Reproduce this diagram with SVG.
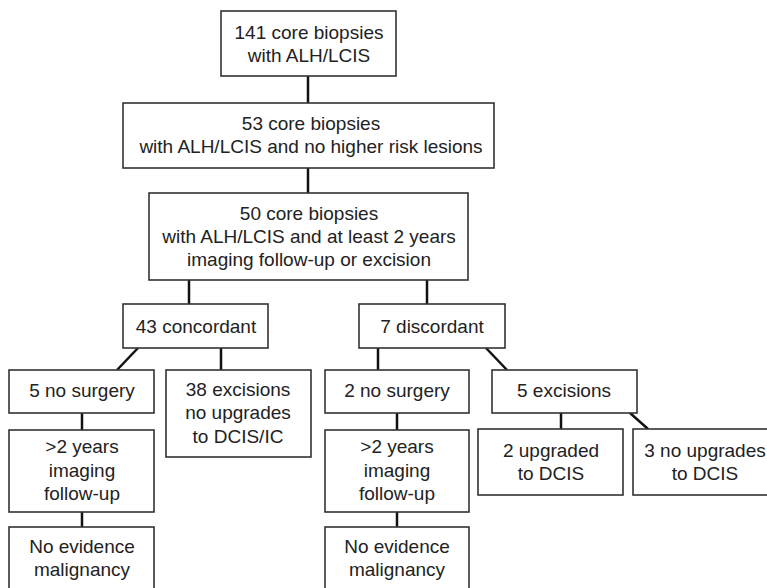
<svg xmlns="http://www.w3.org/2000/svg" width="767" height="588" viewBox="0 0 767 588">
<style>
.box{fill:#fff;stroke:#333;stroke-width:1.6}
.t{font-family:"Liberation Sans",Arial,sans-serif;font-size:19px;fill:#222;text-anchor:middle}
.c line{stroke:#111;stroke-width:2.5}
</style>
<rect width="767" height="588" fill="#fff"/>
<g class="c" id="connectors">
<line x1="308" y1="76" x2="308" y2="103"/>
<line x1="308" y1="168" x2="308" y2="193"/>
<line x1="189" y1="280" x2="189" y2="304"/>
<line x1="427" y1="280" x2="427" y2="304"/>
<line x1="138" y1="348" x2="117" y2="370"/>
<line x1="221" y1="348" x2="221" y2="370"/>
<line x1="82" y1="413" x2="82" y2="430"/>
<line x1="82" y1="512" x2="82" y2="527"/>
<line x1="378" y1="348" x2="378" y2="370"/>
<line x1="486" y1="348" x2="507" y2="370"/>
<line x1="397" y1="413" x2="397" y2="430"/>
<line x1="397" y1="512" x2="397" y2="527"/>
<line x1="561" y1="413" x2="561" y2="429"/>
<line x1="630" y1="413" x2="648" y2="429"/>
</g>
<g id="n141"><rect class="box" x="221" y="11" width="175" height="65"/>
<text class="t" x="309" y="39">141 core biopsies</text><text class="t" x="309" y="62">with ALH/LCIS</text></g>
<g id="n53"><rect class="box" x="123" y="103" width="371" height="65"/>
<text class="t" x="311" y="130">53 core biopsies</text><text class="t" x="311" y="153">with ALH/LCIS and no higher risk lesions</text></g>
<g id="n50"><rect class="box" x="149" y="193" width="319" height="87"/>
<text class="t" x="309" y="220">50 core biopsies</text><text class="t" x="309" y="243">with ALH/LCIS and at least 2 years</text><text class="t" x="309" y="266">imaging follow-up or excision</text></g>
<g id="n43"><rect class="box" x="123" y="304" width="145" height="44"/>
<text class="t" x="196" y="333">43 concordant</text></g>
<g id="n7"><rect class="box" x="359" y="304" width="146" height="44"/>
<text class="t" x="432" y="333">7 discordant</text></g>
<g id="n5ns"><rect class="box" x="9" y="370" width="145" height="43"/>
<text class="t" x="82" y="397">5 no surgery</text></g>
<g id="n38"><rect class="box" x="166" y="370" width="145" height="87"/>
<text class="t" x="238" y="396">38 excisions</text><text class="t" x="238" y="419">no upgrades</text><text class="t" x="238" y="443">to DCIS/IC</text></g>
<g id="n2ns"><rect class="box" x="325" y="370" width="144" height="43"/>
<text class="t" x="397" y="397">2 no surgery</text></g>
<g id="n5ex"><rect class="box" x="492" y="370" width="145" height="43"/>
<text class="t" x="564" y="397">5 excisions</text></g>
<g id="nfu1"><rect class="box" x="9" y="430" width="145" height="82"/>
<text class="t" x="82" y="453">&gt;2 years</text><text class="t" x="82" y="477">imaging</text><text class="t" x="82" y="500">follow-up</text></g>
<g id="nfu2"><rect class="box" x="325" y="430" width="144" height="82"/>
<text class="t" x="397" y="453">&gt;2 years</text><text class="t" x="397" y="477">imaging</text><text class="t" x="397" y="500">follow-up</text></g>
<g id="nup"><rect class="box" x="478" y="429" width="145" height="66"/>
<text class="t" x="551" y="457">2 upgraded</text><text class="t" x="551" y="480">to DCIS</text></g>
<g id="nnup"><rect class="box" x="633" y="429" width="145" height="66"/>
<text class="t" x="705" y="457">3 no upgrades</text><text class="t" x="705" y="480">to DCIS</text></g>
<g id="nne1"><rect class="box" x="9" y="527" width="145" height="70"/>
<text class="t" x="82" y="553">No evidence</text><text class="t" x="82" y="576">malignancy</text></g>
<g id="nne2"><rect class="box" x="325" y="527" width="144" height="70"/>
<text class="t" x="397" y="553">No evidence</text><text class="t" x="397" y="576">malignancy</text></g>
</svg>
